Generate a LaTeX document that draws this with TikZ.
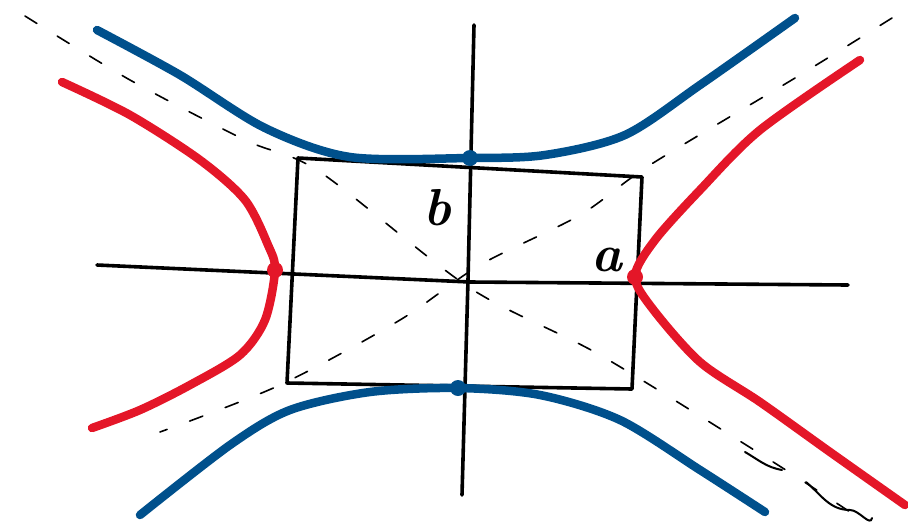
\documentclass[tikz,border=0pt]{standalone}
\usepackage{tikz}
\usetikzlibrary{calc}
\definecolor{hypred}{RGB}{228,22,40}
\definecolor{hypblue}{RGB}{0,80,140}

\begin{document}
\begin{tikzpicture}[
    x=1pt, y=-1pt,
    axis/.style={line width=3.6pt, line cap=round, line join=round},
    redcurve/.style={hypred, line width=8.5pt, line cap=round, line join=round},
    bluecurve/.style={hypblue, line width=8.5pt, line cap=round, line join=round},
    asym/.style={line width=1.6pt, line cap=round, dash pattern=on 14pt off 24pt},
    vertex/.style={circle, inner sep=0pt, minimum size=16pt},
    lab/.style={font=\fontsize{52}{56}\selectfont\bfseries\itshape, inner sep=0pt}
  ]
    \useasboundingbox (0,0) rectangle (908,523);
    % asymptotes
    \draw[asym] plot[smooth] coordinates {(25,16) (130,80) (245,140) (320,172) (470,288) (600,355) (770,460) (850,512)};
    \draw[asym] plot[smooth] coordinates {(892,18) (800,75) (650,165) (580,215) (480,265) (400,320) (280,385) (160,432)};
    % axes and box
    \draw[axis] (97,265) -- (470,282) -- (848,285);
    \draw[axis] (474,25) -- (468,280) -- (462,495);
    \draw[axis] (298,158) -- (642,177) -- (632,389) -- (287,383) -- cycle;
    % blue branches
    \draw[bluecurve] plot[smooth] coordinates {(97,30) (180,75) (265,128) (350,157) (470,158) (545,155) (625,135) (700,85) (795,18)};
    \draw[bluecurve] plot[smooth] coordinates {(140,515) (230,445) (290,410) (370,392) (458,388) (540,395) (620,420) (700,470) (765,512)};
    % red branches
    \draw[redcurve] plot[smooth] coordinates {(62,82) (130,115) (200,160) (245,200) (268,245) (275,270) (265,320) (240,355) (190,385) (140,410) (92,428)};
    \draw[redcurve] plot[smooth] coordinates {(860,60) (760,130) (700,190) (655,240) (635,276) (652,308) (700,362) (760,402) (830,452) (905,505)};
    % vertices
    \node[vertex, fill=hypblue] (btop) at (470,158) {};
    \node[vertex, fill=hypblue] (bbot) at (458,388) {};
    \node[vertex, fill=hypred] (aleft) at (275,270) {};
    \node[vertex, fill=hypred] (aright) at (635,277) {};
    % labels
    \node[lab] (blabel) at (437,208) {b};
    \node[lab] (alabel) at (607,260) {a};
    % stray strokes
    \draw[line width=2pt, line cap=round] (745,452) to[out=-30,in=170] (782,470);
    \draw[line width=2pt, line cap=round] (806,482) to[out=-40,in=180] (850,510) to[out=0,in=-100] (872,518);
  \end{tikzpicture}
\end{document}
